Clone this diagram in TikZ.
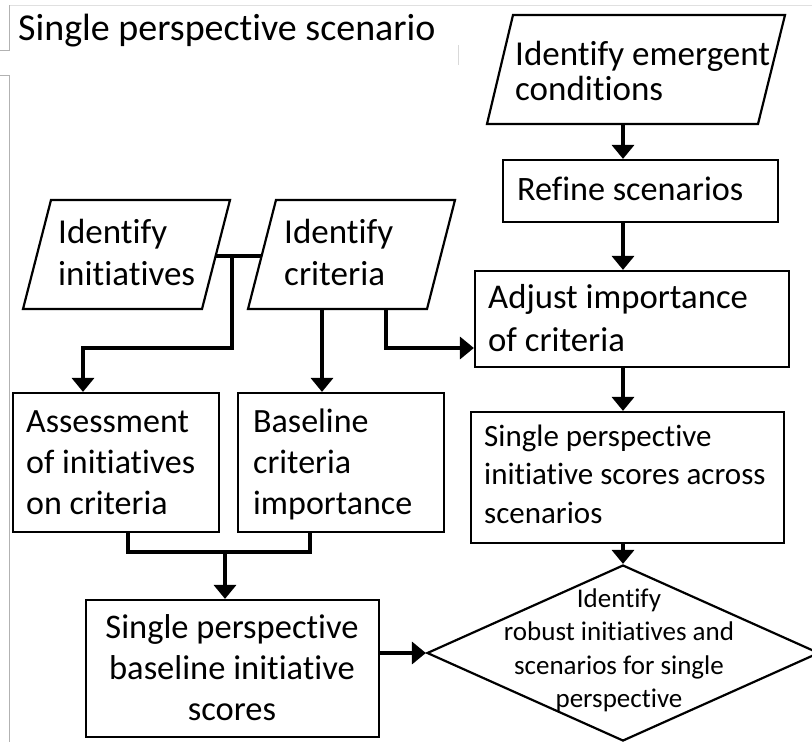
\documentclass[tikz,border=0pt]{standalone}
\usepackage{fontspec}
\setmainfont[Ligatures={NoCommon}]{Carlito}
\usetikzlibrary{arrows.meta,shapes.geometric,calc}
\newcommand\fsz[2]{\fontsize{#1}{#2}\selectfont}
\newcommand\lnsL[1]{\vtop{\lineskiplimit=-100pt\lineskip=0pt\halign{##\hfil\cr#1\crcr}}}
\newcommand\lnsC[1]{\vtop{\lineskiplimit=-100pt\lineskip=0pt\halign{\hfil##\hfil\cr#1\crcr}}}
\begin{document}
\begin{tikzpicture}[x=1pt,y=-1pt,
  box/.style={draw, line width=2.2pt, inner sep=0pt},
  conn/.style={line width=3.6pt},
  arr/.style={conn, -{Triangle[width=22pt,length=14pt]}},
  txt/.style={inner sep=0pt, anchor=base west},
  ctxt/.style={inner sep=0pt, anchor=base},
  frame/.style={draw=black!30, line width=1pt}]
\useasboundingbox (0,0) rectangle (812,742);
\fill[white] (0,0) rectangle (812,742);
% faint frame remnants
\draw[draw=black!12, line width=1pt] (9,5) -- (812,5);
\draw[frame] (9,5) -- (9,50) -- (0,50);
\draw[frame] (0,75) -- (9,75) -- (9,742);
\draw[draw=black!15, line width=1pt] (458,45) -- (458,65);
% title
\node[txt] (title) at (18,40) {\fsz{38}{40}Single perspective scenario};
% parallelograms
\coordinate (iemTL) at (513,15); \coordinate (iemTR) at (785,15);
\coordinate (iemBR) at (758,124); \coordinate (iemBL) at (487,124);
\draw[box] (iemTL) -- (iemTR) -- (iemBR) -- (iemBL) -- cycle;
\coordinate (iniTL) at (51,200); \coordinate (iniTR) at (230,200);
\coordinate (iniBR) at (202,309); \coordinate (iniBL) at (23,309);
\draw[box] (iniTL) -- (iniTR) -- (iniBR) -- (iniBL) -- cycle;
\coordinate (icrTL) at (276,200); \coordinate (icrTR) at (455,200);
\coordinate (icrBR) at (427,309); \coordinate (icrBL) at (248,309);
\draw[box] (icrTL) -- (icrTR) -- (icrBR) -- (icrBL) -- cycle;
% rectangles
\node[box, minimum width=275pt, minimum height=62pt] (refine) at (640.5,191) {};
\node[box, minimum width=314pt, minimum height=96pt] (adjust) at (632,319) {};
\node[box, minimum width=313pt, minimum height=131pt] (spis) at (627.5,477.5) {};
\node[box, minimum width=206pt, minimum height=139pt] (assess) at (116,462.5) {};
\node[box, minimum width=206pt, minimum height=139pt] (basecrit) at (341,462.5) {};
\node[box, minimum width=293pt, minimum height=137pt] (spbis) at (232.5,668.5) {};
\node[box, diamond, minimum width=392pt, minimum height=176pt] (dia) at (623,653) {};
% texts
\node[txt] (t-iem) at (515,65) {\fsz{35}{35}\lnsL{Identify emergent\cr conditions}};
\node[txt] (t-refine) at (517,200) {\fsz{34.2}{42}Refine scenarios};
\node[txt] (t-adjust) at (488,308) {\fsz{34.7}{43.5}\lnsL{Adjust importance\cr of criteria}};
\node[txt] (t-ini) at (58,243) {\fsz{35}{42}\lnsL{Identify\cr initiatives}};
\node[txt] (t-icr) at (284,243) {\fsz{35}{42}\lnsL{Identify\cr criteria}};
\node[txt] (t-assess) at (26,432) {\fsz{34}{41}\lnsL{Assessment\cr of initiatives\cr on criteria}};
\node[txt] (t-basecrit) at (253,432) {\fsz{34}{41}\lnsL{Baseline\cr criteria\cr importance}};
\node[txt] (t-spis) at (484,446) {\fsz{31}{38.5}\lnsL{Single perspective\cr initiative scores across\cr scenarios}};
\node[ctxt] (t-spbis) at (232,638) {\fsz{34.5}{41}\lnsC{Single perspective\cr baseline initiative\cr scores}};
\node[ctxt] (t-dia) at (619,607) {\fsz{27}{33.5}\lnsC{Identify\cr robust initiatives and\cr scenarios for single\cr perspective}};
% connectors: right column
\coordinate (iemB) at (623,124);
\draw[arr] (iemB) -- (iemB |- refine.north);
\draw[arr] (refine.south -| iemB) -- (adjust.north -| iemB);
\draw[arr] (adjust.south -| iemB) -- (spis.north -| iemB);
\draw[arr] (spis.south -| iemB) -- (dia.north);
% initiatives / criteria junction
\coordinate (iniR) at ($(iniTR)!0.514!(iniBR)$);
\coordinate (icrL) at ($(icrTL)!0.514!(icrBL)$);
\draw[conn] (iniR) -- (icrL);
\coordinate (j1) at (232,256);
\coordinate (j2) at (232,348);
\coordinate (j3) at (83,348);
\draw[arr] (j1) -- (j2) -- (j3) -- (j3 |- assess.north);
\coordinate (icrB1) at (322,309);
\draw[arr] (icrB1) -- (icrB1 |- basecrit.north);
\coordinate (icrB2) at (386,309);
\coordinate (k) at (386,348);
\draw[arr] (icrB2) -- (k) -- (k -| adjust.west);
% bottom merge
\coordinate (a1) at (128,532);
\coordinate (b1) at (310,532);
\coordinate (m) at (225,552);
\draw[conn] (a1 |- assess.south) -- (a1 |- m) -- (b1 |- m) -- (b1 |- basecrit.south);
\draw[arr] (m) -- (m |- spbis.north);
\draw[arr] (spbis.east |- dia.west) -- (dia.west);
\end{tikzpicture}
\end{document}
